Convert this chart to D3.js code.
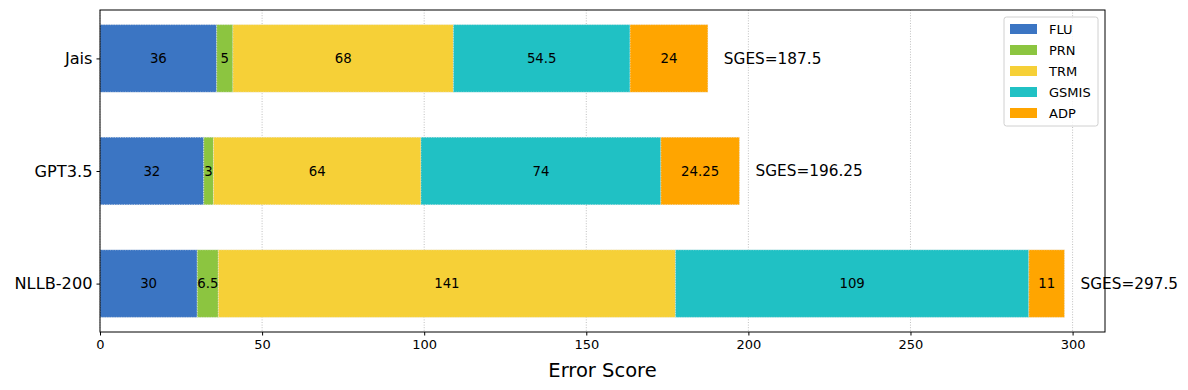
<!DOCTYPE html>
<html>
<head>
<meta charset="utf-8">
<script src="https://cdn.jsdelivr.net/npm/d3@7"></script>
<style>
  body { margin: 0; background: #fff; }
  svg text { font-family: "DejaVu Sans", sans-serif; }
</style>
</head>
<body>
<div id="chart"></div>
<script>
// categories, bottom to top like the original plot
var models = ["NLLB-200", "GPT3.5", "Jais"];
var errorTypes = ["FLU", "PRN", "TRM", "GSMIS", "ADP"];
var FLU   = [30, 32, 36];
var PRN   = [6.5, 3, 5];
var TRM   = [141, 64, 68];
var GSMIS = [109, 74, 54.5];
var ADP   = [11, 24.25, 24];
var sgesLabels = ["SGES=297.5", "SGES=196.25", "SGES=187.5"];
var xTicks = [0, 50, 100, 150, 200, 250, 300];

var colors = ["#3b75c3", "#8cc540", "#f6d037", "#20c1c4", "#ffa500"];

var width = 1188, height = 390;
var plotL = 100, plotR = 1105, plotT = 10, plotB = 332;

var svg = d3.select("#chart").append("svg")
  .attr("width", width)
  .attr("height", height);

var x = d3.scaleLinear().domain([0, 310]).range([plotL, plotR]);
var y = d3.scaleLinear().domain([-0.43, 2.43]).range([plotB, plotT]);
var barH = y(0) - y(0.6);

// build rows for the stack
var table = models.map(function(m, i) {
  return { model: m, i: i, FLU: FLU[i], PRN: PRN[i], TRM: TRM[i], GSMIS: GSMIS[i], ADP: ADP[i] };
});
var stacked = d3.stack().keys(errorTypes)(table);

// grid lines (behind bars)
svg.append("g").selectAll("line")
  .data(xTicks)
  .enter().append("line")
  .attr("x1", function(d) { return x(d); })
  .attr("x2", function(d) { return x(d); })
  .attr("y1", plotT)
  .attr("y2", plotB)
  .style("stroke", "#b0b0b0")
  .style("stroke-width", 0.8)
  .style("stroke-dasharray", "1,1.6");

// bars
var layer = svg.selectAll(".layer")
  .data(stacked)
  .enter().append("g")
  .attr("class", "layer")
  .style("fill", function(d, k) { return colors[k]; });

layer.selectAll("rect")
  .data(function(d) { return d; })
  .enter().append("rect")
  .attr("x", function(d) { return x(d[0]); })
  .attr("width", function(d) { return x(d[1]) - x(d[0]); })
  .attr("y", function(d) { return y(d.data.i) - barH / 2; })
  .attr("height", barH)
  .style("stroke", "#e8e8e8")
  .style("stroke-width", 0.8)
  .style("stroke-dasharray", "1,1.5");

// value labels inside segments
layer.selectAll("text")
  .data(function(d) { return d.map(function(s) { return { s: s, key: d.key }; }); })
  .enter().append("text")
  .attr("x", function(d) { return (x(d.s[0]) + x(d.s[1])) / 2; })
  .attr("y", function(d) { return y(d.s.data.i); })
  .attr("dy", "0.35em")
  .attr("text-anchor", "middle")
  .style("fill", "#000")
  .style("font-size", "13.3px")
  .text(function(d) { return d.s.data[d.key]; });

// SGES totals
var last = stacked[stacked.length - 1];
svg.append("g").selectAll("text")
  .data(last)
  .enter().append("text")
  .attr("x", function(d) { return x(d[1]) + 16; })
  .attr("y", function(d) { return y(d.data.i); })
  .attr("dy", "0.35em")
  .style("font-size", "15.3px")
  .text(function(d, i) { return sgesLabels[i]; });

// axes
svg.append("g")
  .attr("transform", "translate(0," + plotB + ")")
  .call(d3.axisBottom(x).tickValues(xTicks).tickSize(3.5).tickPadding(4))
  .call(function(g) {
    g.select(".domain").remove();
    g.selectAll("text").style("font-size", "13px").style("font-family", "DejaVu Sans");
  });

svg.append("g")
  .attr("transform", "translate(" + plotL + ",0)")
  .call(d3.axisLeft(y).tickValues([0, 1, 2]).tickFormat(function(d) { return models[d]; }).tickSize(3.5).tickPadding(4))
  .call(function(g) {
    g.select(".domain").remove();
    g.selectAll("text").style("font-size", "16.2px").style("font-family", "DejaVu Sans");
  });

// frame
svg.append("rect")
  .attr("x", plotL).attr("y", plotT)
  .attr("width", plotR - plotL).attr("height", plotB - plotT)
  .style("fill", "none").style("stroke", "#000").style("stroke-width", 1);

svg.append("text")
  .attr("x", (plotL + plotR) / 2)
  .attr("y", 377)
  .attr("text-anchor", "middle")
  .style("font-size", "19.5px")
  .text("Error Score");

// legend
var legend = svg.append("g").attr("transform", "translate(1004,17)");
legend.append("rect")
  .attr("width", 94).attr("height", 109)
  .attr("rx", 2.5)
  .style("fill", "#fff").style("fill-opacity", 0.8)
  .style("stroke", "#d0d0d0");
var item = legend.selectAll(".item")
  .data(errorTypes)
  .enter().append("g")
  .attr("transform", function(d, i) { return "translate(6," + (12 + i * 21) + ")"; });
item.append("rect")
  .attr("y", -5).attr("width", 27).attr("height", 10)
  .style("fill", function(d, i) { return colors[i]; });
item.append("text")
  .attr("x", 39).attr("dy", "0.35em")
  .style("font-size", "13px")
  .text(function(d) { return d; });
</script>
</body>
</html>
